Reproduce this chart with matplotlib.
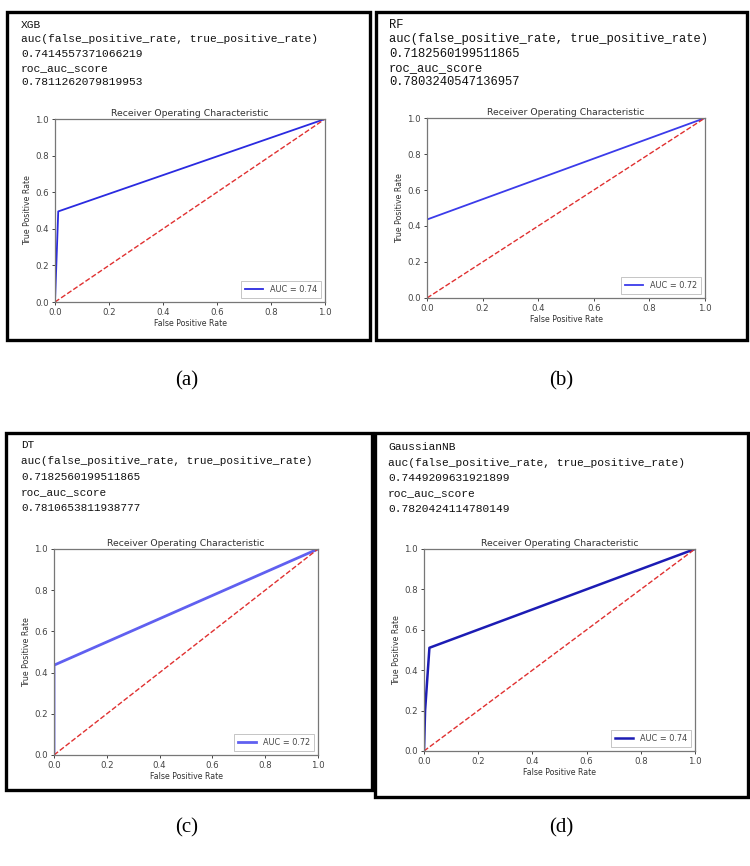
import matplotlib
matplotlib.use("Agg")
import matplotlib.pyplot as plt
from matplotlib.patches import Rectangle

W, H = 750, 866

# ---- data ----
models = ["XGB", "RF", "DT", "GaussianNB"]
auc_fpr_tpr = ["0.7414557371066219", "0.7182560199511865", "0.7182560199511865", "0.7449209631921899"]
roc_auc = ["0.7811262079819953", "0.7803240547136957", "0.7810653811938777", "0.7820424114780149"]
legend_auc = ["0.74", "0.72", "0.72", "0.74"]
fpr_a = [0.0, 0.012, 1.0]
tpr_a = [0.0, 0.495, 1.0]
fpr_b = [0.0, 0.0, 1.0]
tpr_b = [0.0, 0.436, 1.0]
fpr_c = [0.0, 0.0, 1.0]
tpr_c = [0.0, 0.436, 1.0]
fpr_d = [0.0, 0.004, 0.02, 1.0]
tpr_d = [0.0, 0.2, 0.511, 1.0]
fprs = [fpr_a, fpr_b, fpr_c, fpr_d]
tprs = [tpr_a, tpr_b, tpr_c, tpr_d]
sub_labels = ["(a)", "(b)", "(c)", "(d)"]
ticks = [0.0, 0.2, 0.4, 0.6, 0.8, 1.0]

# ---- layout (pixels) ----
boxes = [(7, 12, 370, 340), (376, 12, 747, 340), (6, 433, 372, 790), (375, 433, 748, 797)]
axes_px = [(55, 119, 325, 302), (427, 118, 705, 298), (54, 549, 318, 755), (424, 549, 695, 751)]
text_left = [21, 389, 21, 388]
text_top = [25, 25, 445, 447]
text_size = [8.1, 8.7, 7.9, 8.15]
text_step = [14.3, 14.3, 15.8, 15.5]
line_styles = [dict(color="#2a2ae0", lw=1.3), dict(color="#3b3bea", lw=1.3),
               dict(color="#6060f0", lw=2.0), dict(color="#1c1cb4", lw=1.8)]
label_pos = [(187, 381), (561, 381), (187, 828), (561, 828)]

fig = plt.figure(figsize=(W / 100, H / 100), dpi=100)
fig.patch.set_facecolor("white")


def fx(x):
    return x / W


def fy(y):
    return 1 - y / H


for i in range(4):
    x0, y0, x1, y1 = boxes[i]
    fig.add_artist(Rectangle((fx(x0), fy(y1)), fx(x1 - x0), (y1 - y0) / H,
                             transform=fig.transFigure, fill=False,
                             edgecolor="black", linewidth=2.4))
    lines = [models[i], "auc(false_positive_rate, true_positive_rate)",
             auc_fpr_tpr[i], "roc_auc_score", roc_auc[i]]
    for k, t in enumerate(lines):
        fig.text(fx(text_left[i]), fy(text_top[i] + k * text_step[i]), t,
                 family="Liberation Mono", fontsize=text_size[i], color="#111111",
                 va="center", ha="left")

    ax0, ay0, ax1, ay1 = axes_px[i]
    ax = fig.add_axes([fx(ax0), fy(ay1), fx(ax1 - ax0), (ay1 - ay0) / H])
    ax.plot(fprs[i], tprs[i], label="AUC = " + legend_auc[i], **line_styles[i])
    ax.plot([0, 1], [0, 1], "r--", lw=1.0, color="#e03030")
    ax.set_xlim(0, 1)
    ax.set_ylim(0, 1)
    ax.set_xticks(ticks)
    ax.set_yticks(ticks)
    ax.set_xticklabels([f"{t:.1f}" for t in ticks])
    ax.set_yticklabels([f"{t:.1f}" for t in ticks])
    ax.tick_params(labelsize=6.2, length=2.5, width=0.7, pad=2, colors="#444444")
    for s in ax.spines.values():
        s.set_color("#777777")
        s.set_linewidth(0.9)
    ax.set_title("Receiver Operating Characteristic", fontsize=6.7, pad=2.5, color="#333333")
    ax.set_xlabel("False Positive Rate", fontsize=5.7, labelpad=1.5, color="#333333")
    ax.set_ylabel("True Positive Rate", fontsize=5.7, labelpad=2, color="#333333")
    leg = ax.legend(loc="lower right", fontsize=5.9, handlelength=2.2,
                    borderpad=0.5, framealpha=1, fancybox=False)
    leg.get_frame().set_edgecolor("#bbbbbb")
    leg.get_frame().set_linewidth(0.6)
    for t in leg.get_texts():
        t.set_color("#444444")

    lx, ly = label_pos[i]
    fig.text(fx(lx), fy(ly), sub_labels[i], family="Liberation Serif",
             fontsize=15, ha="center", va="center", color="black")

fig.savefig("out.png", dpi=100, facecolor="white")
